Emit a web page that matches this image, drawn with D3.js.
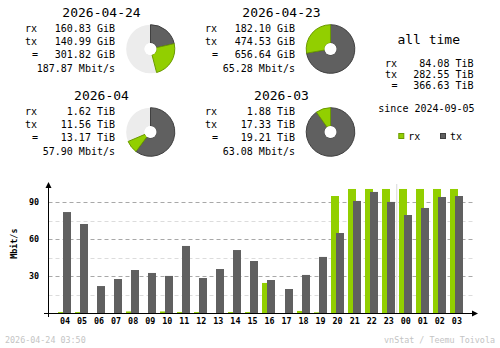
<!DOCTYPE html>
<html>
<head>
<meta charset="utf-8">
<script src="https://cdn.jsdelivr.net/npm/d3@7"></script>
<style>
  html, body { margin: 0; padding: 0; background: #ffffff; }
  svg { display: block; }
  text { font-family: "DejaVu Sans Mono", "Liberation Mono", monospace; fill: #000; }
</style>
</head>
<body>
<svg id="chart" width="500" height="348"></svg>
<script>
// ---- summary periods ----
const periods   = ["2026-04-24", "2026-04-23", "2026-04", "2026-03"];
const rxValues  = [160.83, 182.10, 1.62, 1.88];
const txValues  = [140.99, 474.53, 11.56, 17.33];
const totals    = [301.82, 656.64, 13.17, 19.21];
const units     = ["GiB", "GiB", "TiB", "TiB"];
const rates     = [187.87, 65.28, 57.90, 63.08];
// full circle reference for each donut (larger of current / previous period)
const pieRefs   = [656.64, 656.64, 19.21, 19.21];

// ---- all time ----
const allTimeRx = 84.08;
const allTimeTx = 282.55;
const allTimeTotal = 366.63;
const allTimeUnit = "TiB";
const sinceDate = "2024-09-05";

// ---- hourly averages, Mbit/s ----
const hours   = ["04","05","06","07","08","09","10","11","12","13","14","15",
                 "16","17","18","19","20","21","22","23","00","01","02","03"];
const rxMbit  = [1.0, 1.0, 0, 0, 1.5, 0, 1.5, 1.0, 1.0, 0, 1.0, 1.0,
                 24.6, 0, 1.9, 0.8, 95.1, 100.8, 100.8, 100.8, 100.8, 100.8, 100.8, 100.8];
const txMbit  = [82.1, 72.4, 22.1, 27.8, 35.1, 32.7, 30.3, 54.6, 28.6, 35.9, 51.3, 42.4,
                 27.0, 19.7, 31.1, 45.7, 65.1, 91.1, 98.4, 90.3, 79.7, 85.4, 94.3, 95.1];
const majorTicks = [30, 60, 90];
const minorTicks = [15, 45, 75];
const dayBreak = "00";

const footerLeft = "2026-04-24 03:50";
const footerRight = "vnStat / Teemu Toivola";

const C = {
  rx: "#92cf00", rxDark: "#6b9a00",
  tx: "#606060", txDark: "#404040",
  unused: "#ececec",
  gridMajor: "#a8a8a8", gridMinor: "#dcdcdc",
  footer: "#c4c4c4"
};

const svg = d3.select("#chart");
const LARGE = 13, SMALL = 10, TINY = 8.4;

// ---------- summary blocks ----------
const blockOffsets = [[0, 0], [180, 0], [0, 83], [180, 83]];
const arc = d3.arc();

periods.forEach((p, i) => {
  const [bx, by] = blockOffsets[i];
  const g = svg.append("g").attr("transform", `translate(${bx},${by})`);

  g.append("text").attr("x", 101.5).attr("y", 16.7)
    .attr("text-anchor", "middle").attr("font-size", LARGE).text(p);

  const rows = [
    ["rx", rxValues[i].toFixed(2) + " " + units[i], 32.3],
    ["tx", txValues[i].toFixed(2) + " " + units[i], 45],
    ["=",  totals[i].toFixed(2) + " " + units[i], 57.5]
  ];
  rows.forEach(([lab, val, yy]) => {
    g.append("text").attr("x", lab === "=" ? 32 : 25).attr("y", yy)
      .attr("font-size", SMALL).text(lab);
    g.append("text").attr("x", 115).attr("y", yy)
      .attr("text-anchor", "end").attr("font-size", SMALL).text(val);
  });
  g.append("text").attr("x", 115).attr("y", 72)
    .attr("text-anchor", "end").attr("font-size", SMALL)
    .text(rates[i].toFixed(2) + " Mbit/s");

  // donut: tx first from 12 o'clock, then rx, remainder unused
  const angle = d3.scaleLinear().domain([0, pieRefs[i]]).range([0, 2 * Math.PI]);
  const pie = g.append("g").attr("transform", "translate(150.5,49)");
  const rOut = 24.3, rIn = 6;
  pie.append("path")
    .attr("d", arc({innerRadius: rIn, outerRadius: rOut, startAngle: 0, endAngle: 2 * Math.PI}))
    .attr("fill", C.unused);
  const txEnd = angle(txValues[i]);
  const rxEnd = Math.min(2 * Math.PI, txEnd + angle(rxValues[i]));
  pie.append("path")
    .attr("d", arc({innerRadius: rIn, outerRadius: rOut, startAngle: 0, endAngle: txEnd}))
    .attr("fill", C.tx).attr("stroke", C.txDark).attr("stroke-width", 1);
  pie.append("path")
    .attr("d", arc({innerRadius: rIn, outerRadius: rOut, startAngle: txEnd, endAngle: rxEnd}))
    .attr("fill", C.rx).attr("stroke", C.rxDark).attr("stroke-width", 1);
  pie.append("circle").attr("r", rIn).attr("fill", "#fff");
});

// ---------- all time ----------
const at = svg.append("g");
at.append("text").attr("x", 428.7).attr("y", 44.3).attr("text-anchor", "middle")
  .attr("font-size", LARGE).text("all time");
[["rx", allTimeRx, 66.7], ["tx", allTimeTx, 77.7], ["=", allTimeTotal, 89.3]].forEach(([lab, v, yy]) => {
  at.append("text").attr("x", lab === "=" ? 391.5 : 385).attr("y", yy)
    .attr("font-size", SMALL).text(lab);
  at.append("text").attr("x", 473.5).attr("y", yy).attr("text-anchor", "end")
    .attr("font-size", SMALL).text(v.toFixed(2) + " " + allTimeUnit);
});
at.append("text").attr("x", 378.3).attr("y", 111.6).attr("font-size", SMALL)
  .text("since " + sinceDate);

// legend
[["rx", C.rx, C.rxDark, 398.3], ["tx", C.tx, C.txDark, 440]].forEach(([lab, fill, dark, lx]) => {
  at.append("rect").attr("x", lx + 0.5).attr("y", 133.5).attr("width", 5).attr("height", 5)
    .attr("fill", fill).attr("stroke", dark).attr("stroke-width", 1);
  at.append("text").attr("x", lx + 10).attr("y", 139.5).attr("font-size", SMALL).text(lab);
});

// ---------- hourly chart ----------
const x = d3.scaleBand().domain(hours).range([56.48, 465.44]).paddingInner(0);
const y = d3.scaleLinear().domain([0, 90]).range([313.3, 202.3]);
const cx = h => x(h) + x.bandwidth() / 2;
const axisX0 = 48.5, axisY0 = 313.5;

const grid = svg.append("g");
grid.selectAll("line.minor").data(minorTicks).join("line")
  .attr("x1", axisX0).attr("x2", 473)
  .attr("y1", d => Math.round(y(d)) + 0.5).attr("y2", d => Math.round(y(d)) + 0.5)
  .attr("stroke", C.gridMinor).attr("stroke-dasharray", "4,3");
grid.selectAll("line.major").data(majorTicks).join("line")
  .attr("x1", axisX0).attr("x2", 473)
  .attr("y1", d => Math.round(y(d)) + 0.5).attr("y2", d => Math.round(y(d)) + 0.5)
  .attr("stroke", C.gridMajor).attr("stroke-dasharray", "4,3");

// day boundary marker
const bx = x(dayBreak) - 0.5;
grid.append("line").attr("x1", bx).attr("x2", bx).attr("y1", 184).attr("y2", axisY0)
  .attr("stroke", "#d8d8d8");

// bars
const bars = svg.append("g");
bars.selectAll("rect.rx").data(hours).join("rect")
  .attr("x", (h) => Math.round(cx(h) - 7))
  .attr("width", 8)
  .attr("y", (h, i) => y(rxMbit[i]))
  .attr("height", (h, i) => y(0) - y(rxMbit[i]))
  .attr("fill", C.rx);
bars.selectAll("rect.tx").data(hours).join("rect")
  .attr("x", (h) => Math.round(cx(h) - 2))
  .attr("width", 8)
  .attr("y", (h, i) => y(txMbit[i]))
  .attr("height", (h, i) => y(0) - y(txMbit[i]))
  .attr("fill", C.tx);

// axes
const ax = svg.append("g");
ax.append("line").attr("x1", 44).attr("x2", 475).attr("y1", axisY0).attr("y2", axisY0)
  .attr("stroke", "#000");
ax.append("path").attr("d", `M478,${axisY0} L472,${axisY0 - 3} L472,${axisY0 + 3} Z`).attr("fill", "#000");
ax.append("line").attr("x1", axisX0).attr("x2", axisX0).attr("y1", 186).attr("y2", 317)
  .attr("stroke", "#000");
ax.append("path").attr("d", `M${axisX0},182 L${axisX0 - 3},188 L${axisX0 + 3},188 Z`).attr("fill", "#000");

// y tick labels
ax.selectAll("text.ytick").data(majorTicks).join("text")
  .attr("x", 39).attr("y", d => y(d) + 3)
  .attr("text-anchor", "end").attr("font-size", TINY).attr("font-weight", "bold")
  .text(d => d);

// y axis title
ax.append("text").attr("transform", "translate(17,243.7) rotate(-90)")
  .attr("text-anchor", "middle").attr("font-size", TINY).attr("font-weight", "bold")
  .text("Mbit/s");

// hour labels
ax.selectAll("text.hour").data(hours).join("text")
  .attr("x", h => cx(h)).attr("y", 324.3)
  .attr("text-anchor", "middle").attr("font-size", TINY).attr("font-weight", "bold")
  .text(h => h);

// footer
svg.append("text").attr("x", 5).attr("y", 342.7).attr("font-size", TINY)
  .style("fill", C.footer).text(footerLeft);
svg.append("text").attr("x", 495).attr("y", 342.7).attr("font-size", TINY)
  .attr("text-anchor", "end").style("fill", C.footer).text(footerRight);
</script>
</body>
</html>
